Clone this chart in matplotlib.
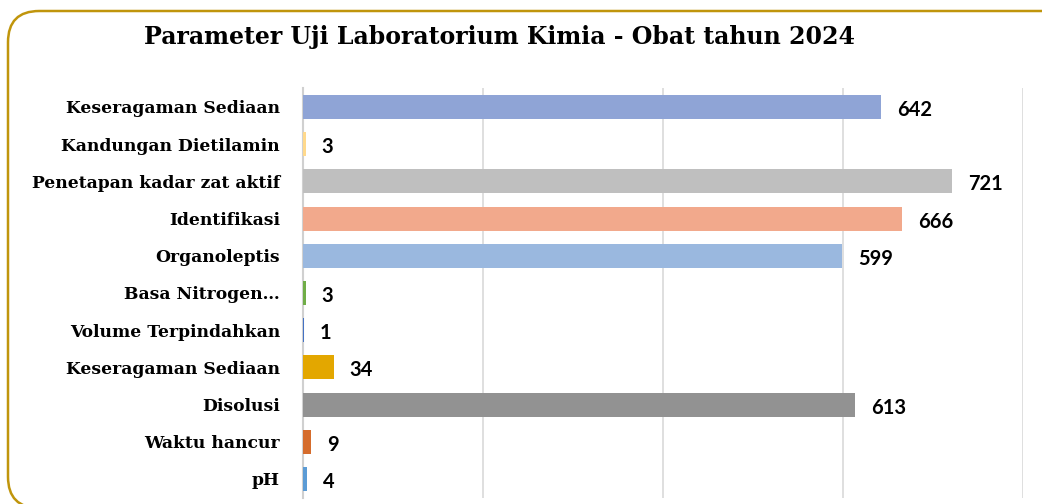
import matplotlib
matplotlib.use("Agg")
import matplotlib.pyplot as plt
from matplotlib.patches import FancyBboxPatch

categories = ["Keseragaman Sediaan", "Kandungan Dietilamin", "Penetapan kadar zat aktif",
              "Identifikasi", "Organoleptis", "Basa Nitrogen…", "Volume Terpindahkan",
              "Keseragaman Sediaan", "Disolusi", "Waktu hancur", "pH"]
values = [642, 3, 721, 666, 599, 3, 1, 34, 613, 9, 4]
colors = ["#8FA4D6", "#FFD98C", "#BFBFBF", "#F2A98C", "#9AB8DF", "#70AD47", "#4472C4",
          "#E3A700", "#929292", "#D56C2C", "#5B9BD5"]
title = "Parameter Uji Laboratorium Kimia - Obat tahun 2024"

fig = plt.figure(figsize=(10.42, 5.04), dpi=100)
fig.patch.set_facecolor("white")

# rounded border
box = FancyBboxPatch((8/1042, 1-508/504), 1.2, 497/504,
                     boxstyle="round,pad=0,rounding_size=0.03",
                     transform=fig.transFigure, facecolor="none",
                     edgecolor="#C0950C", linewidth=1.8, mutation_aspect=1042/504)
fig.patches.append(box)

ax = fig.add_axes([303/1042, 1-497.6/504, 720/1042, (497.6-88.4)/504])
n = len(values)
ypos = list(range(n))
ax.barh(ypos, values, height=0.65, color=colors, zorder=3)
ax.set_ylim(n-0.5, -0.5)
ax.set_xlim(0, 800)
ax.set_xticks([0, 200, 400, 600, 800])
ax.xaxis.grid(True, color="#D9D9D9", linewidth=1.2, zorder=0)
ax.tick_params(axis="x", bottom=False, labelbottom=False)
ax.tick_params(axis="y", left=False, pad=13)
ax.set_yticks(ypos)
ax.set_yticklabels(categories, fontfamily="DejaVu Serif", fontweight="bold", fontsize=12.3)
for s in ["top", "right", "bottom"]:
    ax.spines[s].set_visible(False)
ax.spines["left"].set_color("#D0D0D0")
ax.spines["left"].set_linewidth(1.5)
ax.set_facecolor("none")

for y, v in zip(ypos, values):
    ax.annotate(str(v), xy=(v, y), xytext=(16, -3), textcoords="offset pixels",
                va="center", ha="left", fontfamily="Lato", fontweight="bold", fontsize=14.5)

fig.text(500/1042, 1-37/504, title, ha="center", va="center",
         fontfamily="DejaVu Serif", fontweight="bold", fontsize=17)

fig.savefig("out.png", dpi=100)
